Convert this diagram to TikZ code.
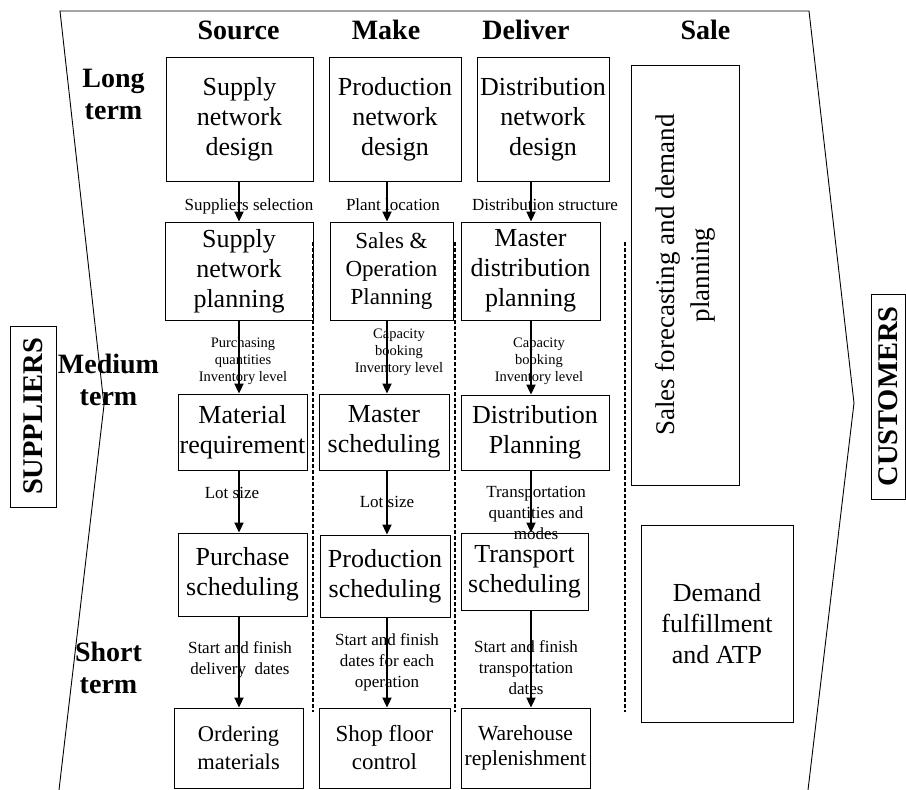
\documentclass[tikz,border=0pt]{standalone}
\usepackage{fontspec}
\setmainfont{Liberation Serif}
\usetikzlibrary{arrows.meta}
\tikzstyle{planbox} = [rectangle, draw=black, line width=0.9pt, inner sep=0pt, align=center, font=\fontsize{26}{30}\selectfont]
\tikzstyle{colhead} = [font=\bfseries\fontsize{28}{32}\selectfont, anchor=base]
\tikzstyle{horizon} = [font=\bfseries\fontsize{28}{32}\selectfont, align=center, inner sep=0pt]
\tikzstyle{partner} = [rectangle, draw=black, line width=0.9pt, rotate=90, inner sep=0pt, font=\bfseries\fontsize{28.5}{32}\selectfont]
\tikzstyle{flowlabel} = [font=\fontsize{17}{21}\selectfont, align=center, inner sep=0pt]
\tikzstyle{smalllabel} = [font=\fontsize{14.5}{17}\selectfont, align=center, inner sep=0pt]
\tikzstyle{flowarrow} = [line width=2pt, -{Stealth[length=10pt, width=9pt, inset=0pt]}]
\tikzstyle{divider} = [line width=1.5pt, dash pattern=on 4pt off 2pt]
\begin{document}
\begin{tikzpicture}[x=1pt, y=-1pt]
	\useasboundingbox (0,0) rectangle (906,790);
	% outer frame
	\draw[line width=0.9pt] (59,790) -- (104,405) -- (60,11) -- (809,11) -- (854,403) -- (808,790);
	% column and row headings
	\node (hsrc) [colhead] at (238.5,39) {Source};
	\node (hmak) [colhead] at (386,39) {Make};
	\node (hdel) [colhead] at (526,39) {Deliver};
	\node (hsal) [colhead] at (705.5,39) {Sale};
	\node (long) [horizon] at (113.5,94) {Long\\term};
	\node (medium) [horizon] at (108.5,380) {Medium\\term};
	\node (short) [horizon] at (108.5,668) {Short\\term};
	\node (sup) [partner, minimum width=181, minimum height=46] at (33,416.5) {SUPPLIERS};
	\node (cus) [partner, minimum width=205, minimum height=34] at (888,396.5) {CUSTOMERS};
	% source column
	\node (snd) [planbox, minimum width=147, minimum height=124] at (239.5,119) {Supply\\network\\design};
	\node (snp) [planbox, minimum width=148, minimum height=98] at (239,271) {Supply\\network\\planning};
	\node (mrq) [planbox, minimum width=129, minimum height=76] at (242.5,432) {Material\\requirement};
	\node (psc) [planbox, minimum width=129, minimum height=83] at (242.5,574.5) {Purchase\\scheduling};
	\node (omt) [planbox, minimum width=129, minimum height=80, font=\fontsize{22.5}{28}\selectfont] at (238.5,748) {Ordering\\materials};
	% make column
	\node (pnd) [planbox, minimum width=132, minimum height=124] at (395,119) {Production\\network\\design};
	\node (sop) [planbox, minimum width=123, minimum height=98, font=\fontsize{23}{27.5}\selectfont] at (391.5,271) {Sales \&\\Operation\\Planning};
	\node (msc) [planbox, minimum width=130, minimum height=76] at (384,432) {Master\\scheduling};
	\node (prs) [planbox, minimum width=130, minimum height=82] at (385,576) {Production\\scheduling};
	\node (sfc) [planbox, minimum width=131, minimum height=80, font=\fontsize{23}{28}\selectfont] at (384.5,748) {Shop floor\\control};
	% deliver column
	\node (dnd) [planbox, minimum width=132, minimum height=124] at (543,119) {Distribution\\network\\design};
	\node (mdp) [planbox, minimum width=139, minimum height=98] at (530.5,271) {Master\\distribution\\planning};
	\node (dpl) [planbox, minimum width=148, minimum height=75] at (535,432.5) {Distribution\\Planning};
	\node (tsc) [planbox, minimum width=127, minimum height=77] at (524.5,571.5) {Transport\\scheduling};
	\node (whr) [planbox, minimum width=129, minimum height=80, font=\fontsize{21.5}{25.5}\selectfont] at (525.5,748) {Warehouse\\replenishment};
	% sale column
	\node (sfd) [planbox, rotate=90, minimum width=420, minimum height=108, font=\fontsize{27}{35}\selectfont] at (685,275) {Sales forecasting and demand\\planning};
	\node (dfa) [planbox, minimum width=152, minimum height=197, font=\fontsize{26}{31}\selectfont] at (717,623.5) {Demand\\fulfillment\\and ATP};
	% separators
	\foreach \xd in {313,455,625}
		\draw[divider] (\xd,242) -- (\xd,712);
	% flow labels
	\node (lsel) [flowlabel, anchor=base] at (249,210) {Suppliers selection};
	\node (lloc) [flowlabel, anchor=base] at (393,210) {Plant location};
	\node (lstr) [flowlabel, anchor=base] at (545,210) {Distribution structure};
	\node (lpur) [smalllabel] at (243,361.5) {Purchasing\\quantities\\Inventory level};
	\node (lcapm) [smalllabel] at (399,352.5) {Capacity\\booking\\Inventory level};
	\node (lcapd) [smalllabel] at (539,361.5) {Capacity\\booking\\Inventory level};
	\node (llots) [flowlabel, anchor=base] at (232,498) {Lot size};
	\node (llotm) [flowlabel, anchor=base] at (387,507) {Lot size};
	\node (ltrq) [flowlabel] at (536,513) {Transportation\\quantities and\\modes};
	\node (ldel) [flowlabel] at (240,659.5) {Start and finish\\delivery\ \ dates};
	\node (lops) [flowlabel] at (387,662.5) {Start and finish\\dates for each\\operation};
	\node (ltrd) [flowlabel] at (526,668) {Start and finish\\transportation\\dates};
	% arrows
	\coordinate (srcx) at (239,0);
	\coordinate (makx) at (387,0);
	\coordinate (delx) at (531,0);
	\draw[flowarrow] (snd.south -| srcx) -- (snp.north -| srcx);
	\draw[flowarrow] (snp.south -| srcx) -- (mrq.north -| srcx);
	\draw[flowarrow] (mrq.south -| srcx) -- (psc.north -| srcx);
	\draw[flowarrow] (psc.south -| srcx) -- (omt.north -| srcx);
	\draw[flowarrow] (pnd.south -| makx) -- (sop.north -| makx);
	\draw[flowarrow] (sop.south -| makx) -- (msc.north -| makx);
	\draw[flowarrow] (msc.south -| makx) -- (prs.north -| makx);
	\draw[flowarrow] (prs.south -| makx) -- (sfc.north -| makx);
	\draw[flowarrow] (dnd.south -| delx) -- (mdp.north -| delx);
	\draw[flowarrow] (mdp.south -| delx) -- (dpl.north -| delx);
	\draw[flowarrow] (dpl.south -| delx) -- (tsc.north -| delx);
	\draw[flowarrow] (tsc.south -| delx) -- (whr.north -| delx);
\end{tikzpicture}
\end{document}
